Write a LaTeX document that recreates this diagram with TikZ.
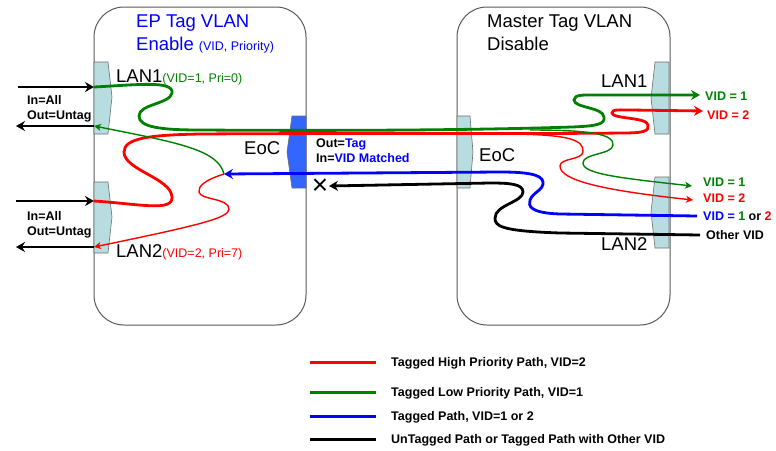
\documentclass[tikz,border=0pt]{standalone}
\usepackage{fontspec}
\setmainfont{Liberation Sans}
\usetikzlibrary{arrows.meta}
\definecolor{vgreen}{RGB}{0,128,0}
\definecolor{vred}{RGB}{255,0,0}
\definecolor{vblue}{RGB}{0,0,255}
\definecolor{eocblue}{RGB}{51,102,255}
\definecolor{portfill}{RGB}{183,221,224}
\definecolor{portline}{RGB}{110,110,110}
\definecolor{boxline}{RGB}{90,90,90}
\newcommand\smallf{\fontsize{12.5}{14}\selectfont}
\begin{document}
\begin{tikzpicture}[x=1pt,y=-1pt,
  bigtxt/.style={anchor=base west,inner sep=0pt,font=\fontsize{18.5}{20}\selectfont},
  lbl/.style={anchor=base west,inner sep=0pt,font=\fontsize{12.5}{14}\selectfont\bfseries},
  devbox/.style={draw=boxline,line width=1pt,rounded corners=30pt},
  port/.style={draw=portline,fill=portfill,line width=0.6pt},
  eocport/.style={draw=portline,fill=eocblue,line width=0.6pt},
  thickpath/.style={line width=2.8pt},
  thinpath/.style={line width=1.4pt},
  bigtip/.style={-{Stealth[length=9pt,width=10pt,inset=3pt]}},
  smalltip/.style={-{Stealth[length=7pt,width=7pt,inset=2pt]}},
  legline/.style={line width=3pt},
]
\useasboundingbox (0,0) rectangle (776,450);
\fill[white] (0,0) rectangle (776,450);

% device boxes
\draw[devbox] (94,7) rectangle (306,325);
\draw[devbox] (457,7) rectangle (670,325);

% ports
\draw[port] (94,62) -- (108,62) -- (112,97) -- (108,134) -- (94,134) -- cycle;
\draw[port] (94,182) -- (108,182) -- (112,217) -- (108,253) -- (94,253) -- cycle;
\draw[eocport] (306,116) -- (292,116) -- (287,152) -- (292,188) -- (306,188) -- cycle;
\draw[port] (457,116) -- (470,116) -- (473,152) -- (470,188) -- (457,188) -- cycle;
\draw[port] (669,62) -- (655,62) -- (651,98) -- (655,134) -- (669,134) -- cycle;
\draw[port] (669,177) -- (655,177) -- (651,212) -- (655,248) -- (669,248) -- cycle;

% texts
\node[bigtxt,text=vblue] (t1) at (136,27) {EP Tag VLAN};
\node[bigtxt,text=vblue] (t2) at (136,50) {Enable {\smallf(VID, Priority)}};
\node[bigtxt] (t3) at (487,27.5) {Master Tag VLAN};
\node[bigtxt] (t4) at (487,50) {Disable};
\node[bigtxt] (lan1l) at (116,82) {LAN1{\smallf\color{vgreen}(VID=1, Pri=0)}};
\node[bigtxt] (lan2l) at (116,257) {LAN2{\smallf\color{vred}(VID=2, Pri=7)}};
\node[bigtxt] (eocl) at (244,154) {EoC};
\node[bigtxt] (eocr) at (479,161) {EoC};
\node[bigtxt] (lan1r) at (601,87) {LAN1};
\node[bigtxt] (lan2r) at (601,250) {LAN2};
\node[lbl] (in1) at (27,104) {In=All};
\node[lbl] (out1) at (27,119) {Out=Untag};
\node[lbl] (in2) at (27,220) {In=All};
\node[lbl] (out2) at (27,235) {Out=Untag};
\node[lbl] (otag) at (316,147) {Out={\color{vblue}Tag}};
\node[lbl] (ivid) at (316,162) {In={\color{vblue}VID Matched}};
\node[lbl,text=vgreen] (v1a) at (705,100) {VID = 1};
\node[lbl,text=vred] (v2a) at (707,119) {VID = 2};
\node[lbl,text=vgreen] (v1b) at (703,186) {VID = 1};
\node[lbl,text=vred] (v2b) at (703,202) {VID = 2};
\node[lbl] (v12) at (703,220) {{\color{vblue}VID =} {\color{vgreen}1} or {\color{vred}2}};
\node[lbl] (ovid) at (706,239) {Other VID};
\node[inner sep=0pt,font=\fontsize{28}{28}\selectfont] (xmark) at (320,187) {×};

% coordinates
\coordinate (L1in) at (94,87);
\coordinate (L1out) at (94,126);
\coordinate (L2in) at (94,201);
\coordinate (L2out) at (94,247);
\coordinate (W1) at (18,87);
\coordinate (W2) at (16,126);
\coordinate (W3) at (16,201);
\coordinate (W4) at (16,247);
\coordinate (Xtip) at (329,186);
\coordinate (Btip) at (224,174);
\coordinate (R1g) at (700,95);
\coordinate (R1r) at (703,111);
\coordinate (R2g) at (692,186);
\coordinate (R2r) at (693,200);
\coordinate (R2b) at (697,216);
\coordinate (R2k) at (700,235);

% black in/out arrows
\draw[thickpath,line width=2.4pt,bigtip] (W1) -- (L1in);
\draw[thickpath,line width=2.4pt,bigtip] (L1out) -- (W2);
\draw[thickpath,line width=2.4pt,bigtip] (W3) -- (L2in);
\draw[thickpath,line width=2.4pt,bigtip] (L2out) -- (W4);

% thick green (VID=1)
\draw[thickpath,draw=vgreen,bigtip] (L1in)
  .. controls (135,85) and (174,80) .. (172,93)
  .. controls (170,104) and (139,104) .. (139,116)
  .. controls (139,127) and (160,130) .. (200,130)
  .. controls (350,131) and (480,130) .. (572,127)
  .. controls (598,126) and (605,124) .. (604,117)
  .. controls (603,107) and (574,108) .. (574,100)
  .. controls (574,94) and (585,95) .. (600,95)
  -- (R1g);

% thick red (VID=2)
\draw[thickpath,draw=vred,bigtip] (L2in)
  .. controls (140,204) and (173,212) .. (172,197)
  .. controls (171,178) and (124,170) .. (124,152)
  .. controls (124,138) and (150,135) .. (200,134)
  .. controls (350,133) and (550,134) .. (622,133)
  .. controls (645,133) and (649,131) .. (648,125)
  .. controls (647,117) and (612,119) .. (612,113)
  .. controls (612,109) and (620,110) .. (630,110)
  -- (R1r);

% thin green to right LAN2
\draw[thinpath,draw=vgreen,smalltip] (530,130)
  .. controls (590,130) and (614,134) .. (613,145)
  .. controls (612,155) and (583,153) .. (583,163)
  .. controls (583,174) and (620,178) .. (R2g);

% thin red to right LAN2
\draw[thinpath,draw=vred,smalltip] (515,134)
  .. controls (570,135) and (584,140) .. (583,152)
  .. controls (582,160) and (560,158) .. (560,166)
  .. controls (560,180) and (600,190) .. (R2r);

% blue
\draw[thickpath,draw=vblue,bigtip] (R2b) -- (560,214)
  .. controls (530,213) and (528,206) .. (530,200)
  .. controls (533,192) and (544,190) .. (543,182)
  .. controls (542,174) and (525,172) .. (500,172)
  -- (Btip);

% black other VID
\draw[thickpath,bigtip] (R2k) -- (560,233)
  .. controls (500,231) and (495,226) .. (495,218)
  .. controls (495,205) and (523,202) .. (523,192)
  .. controls (523,184) and (510,183) .. (490,183)
  -- (Xtip);

% thin green back to LAN1
\draw[thinpath,draw=vgreen,smalltip] (Btip)
  .. controls (218,150) and (180,143) .. (L1out);

% thin red back to LAN2
\draw[thinpath,draw=vred,smalltip] (Btip)
  .. controls (205,180) and (198,186) .. (199,192)
  .. controls (200,200) and (229,198) .. (229,209)
  .. controls (229,218) and (200,225) .. (L2out);

% legend
\coordinate (la1) at (310,362); \coordinate (lb1) at (376,362);
\coordinate (la2) at (310,392); \coordinate (lb2) at (376,392);
\coordinate (la3) at (310,416); \coordinate (lb3) at (376,416);
\coordinate (la4) at (310,439); \coordinate (lb4) at (376,439);
\draw[legline,vred] (la1) -- (lb1);
\draw[legline,vgreen] (la2) -- (lb2);
\draw[legline,vblue] (la3) -- (lb3);
\draw[legline,black] (la4) -- (lb4);
\node[lbl] (lg1) at (391,366) {Tagged High Priority Path, VID=2};
\node[lbl] (lg2) at (391,396) {Tagged Low Priority Path, VID=1};
\node[lbl] (lg3) at (391,420) {Tagged Path, VID=1 or 2};
\node[lbl] (lg4) at (391,443) {UnTagged Path or Tagged Path with Other VID};
\end{tikzpicture}
\end{document}
